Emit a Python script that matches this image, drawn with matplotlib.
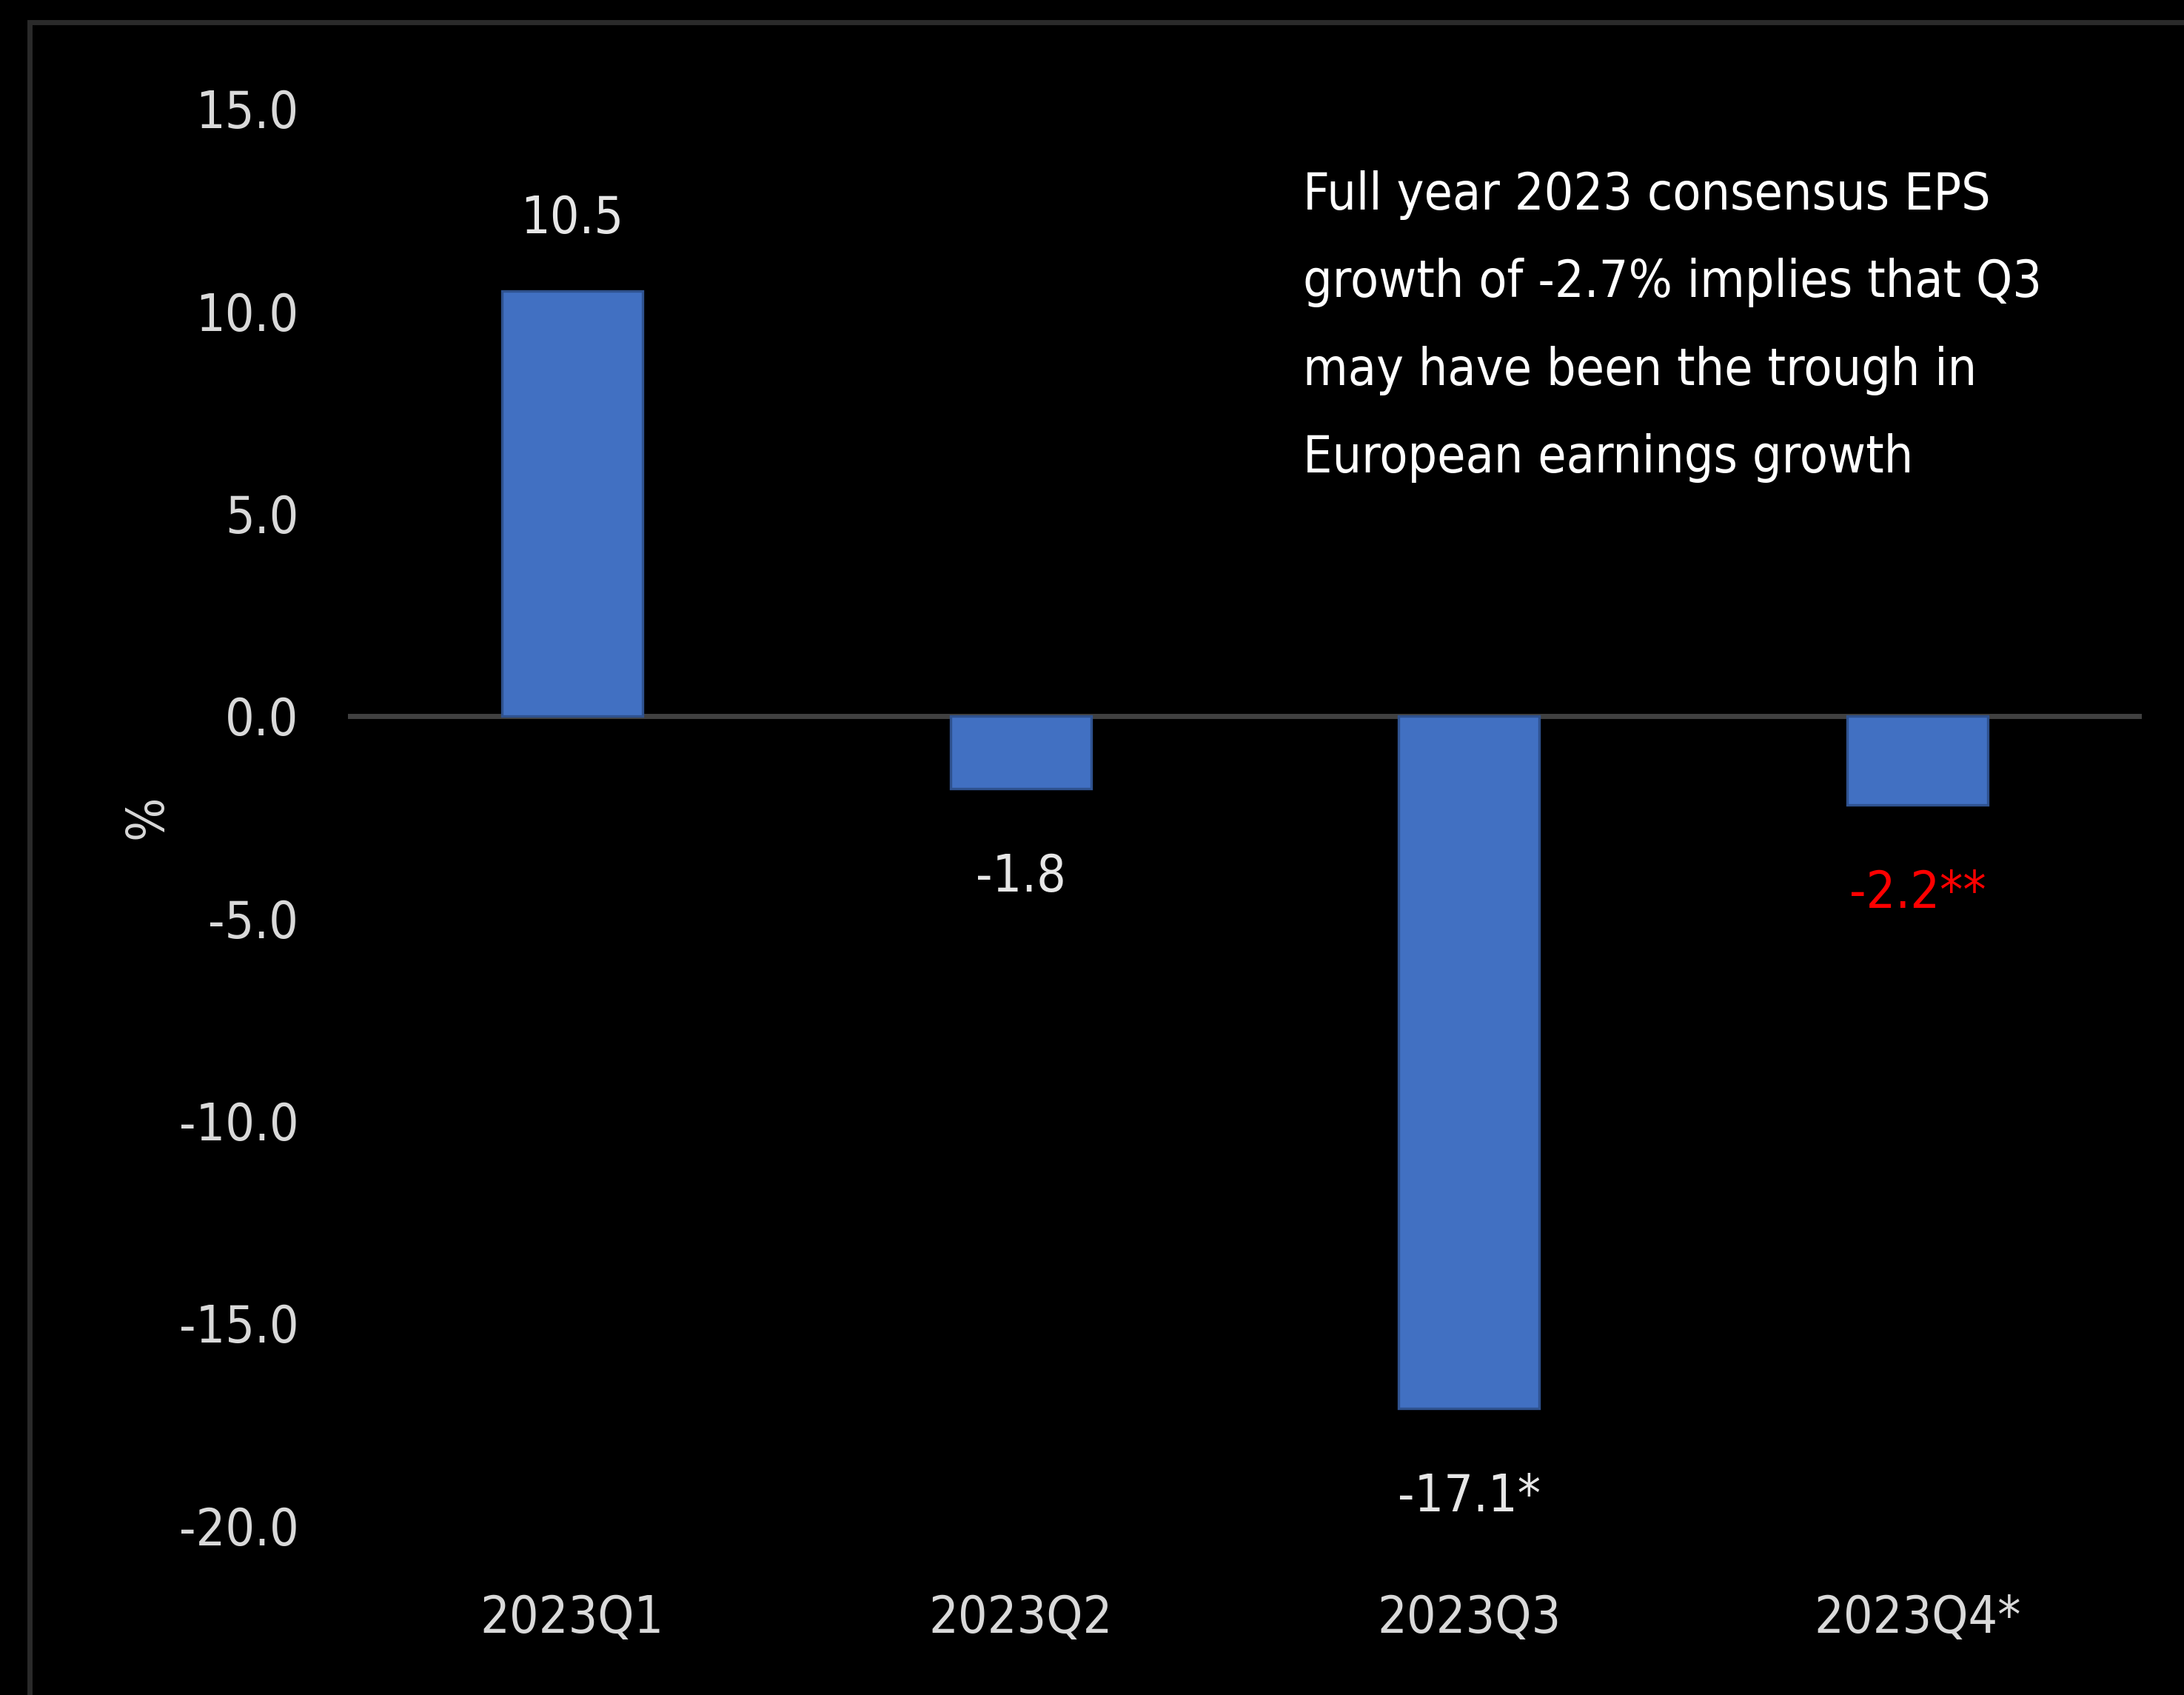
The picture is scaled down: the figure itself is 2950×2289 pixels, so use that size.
import matplotlib
matplotlib.use("Agg")
import matplotlib.pyplot as plt
from matplotlib.patches import Rectangle

# data
quarters = ["2023Q1", "2023Q2", "2023Q3", "2023Q4*"]
growth = [10.5, -1.8, -17.1, -2.2]
value_labels = ["10.5", "-1.8", "-17.1*", "-2.2**"]
label_colors = ["#e6e6e6", "#e6e6e6", "#e6e6e6", "#ff0000"]
y_ticks = [15.0, 10.0, 5.0, 0.0, -5.0, -10.0, -15.0, -20.0]
note = ("Full year 2023 consensus EPS\n"
        "growth of -2.7% implies that Q3\n"
        "may have been the trough in\n"
        "European earnings growth")

plt.rcParams['font.family'] = ['DejaVu Sans']
plt.rcParams['font.stretch'] = 'condensed'

W, H, DPI = 2950, 2289, 200
fig = plt.figure(figsize=(W / DPI, H / DPI), dpi=DPI, facecolor="black")

# thin dark frame around the chart area
fig.patches.append(Rectangle((40 / W, -0.1), 1.2, 1.1 - 30 / H,
                             transform=fig.transFigure, fill=False,
                             edgecolor="#2a2a2a", linewidth=2.5))

ax = fig.add_axes([470 / W, 0.100, (2893 - 470) / W, 0.9358 - 0.100])
ax.set_facecolor("black")

x = range(len(quarters))
ax.bar(x, growth, width=0.314, color="#4170C2", edgecolor="#2F528F",
       linewidth=1.2, zorder=3)
ax.axhline(0, color="#404040", linewidth=2.5, zorder=2)

ax.set_xlim(-0.5, 3.5)
ax.set_ylim(-20, 15)
ax.set_yticks(y_ticks)
ax.set_yticklabels([f"{v:.1f}" for v in y_ticks])
ax.set_xticks(list(x))
ax.set_xticklabels(quarters)
ax.tick_params(axis="y", length=0, pad=24, labelsize=25, labelcolor="#d9d9d9")
ax.tick_params(axis="x", length=0, pad=33, labelsize=25, labelcolor="#d9d9d9")
for s in ax.spines.values():
    s.set_visible(False)

ax.set_ylabel("%", fontsize=25, color="#d9d9d9")
ax.yaxis.set_label_coords(-0.098, 0.5)

# value labels
for i, (v, lab, c) in enumerate(zip(growth, value_labels, label_colors)):
    off = 35 if v > 0 else -43
    ax.annotate(lab, (i, v), xytext=(0, off), textcoords="offset points",
                ha="center", va="center", fontsize=25, color=c,
                annotation_clip=False)

fig.text(1760 / W, 1 - 230 / H, note, ha="left", va="top", fontsize=25,
         color="white", linespacing=1.97)

fig.savefig("out.png", dpi=DPI, facecolor="black")
